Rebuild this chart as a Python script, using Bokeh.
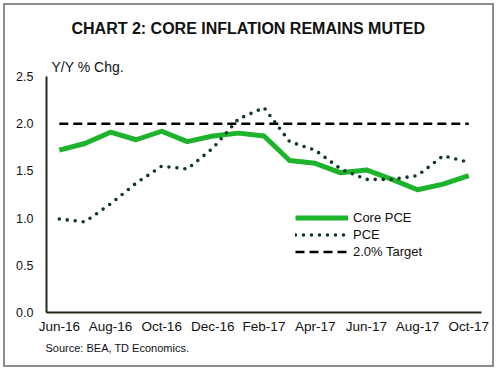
from bokeh.plotting import figure
from bokeh.models import Range1d, FixedTicker, PrintfTickFormatter, Title, Legend, LegendItem
from bokeh.embed import file_html
from bokeh.resources import INLINE

months = ["Jun-16", "Jul-16", "Aug-16", "Sep-16", "Oct-16", "Nov-16", "Dec-16", "Jan-17",
          "Feb-17", "Mar-17", "Apr-17", "May-17", "Jun-17", "Jul-17", "Aug-17", "Sep-17", "Oct-17"]
core_pce = [1.72, 1.79, 1.91, 1.83, 1.92, 1.81, 1.87, 1.90, 1.87, 1.61, 1.58, 1.48, 1.51, 1.41, 1.30, 1.36, 1.45]
pce = [0.99, 0.96, 1.15, 1.37, 1.55, 1.52, 1.74, 2.05, 2.17, 1.81, 1.72, 1.52, 1.41, 1.41, 1.45, 1.66, 1.59]
target = [2.0] * len(months)
y_ticks = [0.0, 0.5, 1.0, 1.5, 2.0, 2.5]

xs = list(range(len(months)))

FONT = "Liberation Sans"

p = figure(width=497, height=370, output_backend="svg", toolbar_location=None,
           x_range=Range1d(-0.5, len(months) - 0.5), y_range=Range1d(0, 2.5),
           min_border_left=46, min_border_right=16, min_border_top=75, min_border_bottom=58)
p.styles = {"box-shadow": "inset 0 0 0 3px #ffffff, inset 0 0 0 5px #8c8c8c"}
p.outline_line_color = None
p.xgrid.visible = False
p.ygrid.visible = False
p.background_fill_color = "white"
p.border_fill_alpha = 0

# main chart title (outermost)
p.title.text = "CHART 2: CORE INFLATION REMAINS MUTED"
p.title.align = "left"
p.title.offset = 25
p.title.text_font = FONT
p.title.text_font_size = "16px"
p.title.text_font_style = "bold"
p.title.text_color = "#111111"
p.title.standoff = 35

# unit label, closest to the frame
p.add_layout(Title(text="Y/Y % Chg.", align="left", offset=5,
                   text_font=FONT, text_font_size="14px", text_font_style="normal",
                   text_color="#111111", standoff=4), "above")
p.add_layout(Title(text="Source: BEA, TD Economics.", align="left", offset=-1,
                   text_font=FONT, text_font_size="11px", text_font_style="normal",
                   text_color="#111111", standoff=7), "below")

axis_color = "#1f2a1a"
for ax in (p.xaxis[0], p.yaxis[0]):
    ax.axis_line_color = axis_color
    ax.axis_line_width = 2
    ax.major_tick_line_color = None
    ax.minor_tick_line_color = None
    ax.major_tick_out = 0
    ax.major_tick_in = 0
    ax.minor_tick_out = 0
    ax.major_label_text_font = FONT
    ax.major_label_text_color = "#111111"

p.xaxis.ticker = FixedTicker(ticks=xs[::2])
p.xaxis.major_label_overrides = {i: months[i] for i in xs}
p.xaxis.major_label_text_font_size = "13.5px"
p.xaxis.major_label_standoff = 6

p.yaxis.ticker = FixedTicker(ticks=y_ticks)
p.yaxis.formatter = PrintfTickFormatter(format="%.1f")
p.yaxis.major_label_text_font_size = "12.5px"
p.yaxis.major_label_standoff = 13

r_core = p.line(xs, core_pce, line_color="#1db32d", line_width=5, line_join="round")
r_pce = p.line(xs, pce, line_color="#0e3a1e", line_width=3.6, line_dash="0 8", line_cap="round",
               line_join="round")
r_tgt = p.line(xs, target, line_color="#000000", line_width=2.5, line_dash="9 5")

legend = Legend(items=[LegendItem(label="Core PCE", renderers=[r_core]),
                       LegendItem(label="PCE", renderers=[r_pce]),
                       LegendItem(label="2.0% Target", renderers=[r_tgt])],
                location=(249, 52), padding=0, margin=0, spacing=0,
                glyph_width=53, glyph_height=17, label_height=17, label_standoff=5,
                label_text_font=FONT, label_text_font_size="13px", label_text_color="#111111",
                border_line_color=None, background_fill_alpha=0)
p.add_layout(legend, "center")

open("out.html", "w").write(file_html(p, INLINE))
